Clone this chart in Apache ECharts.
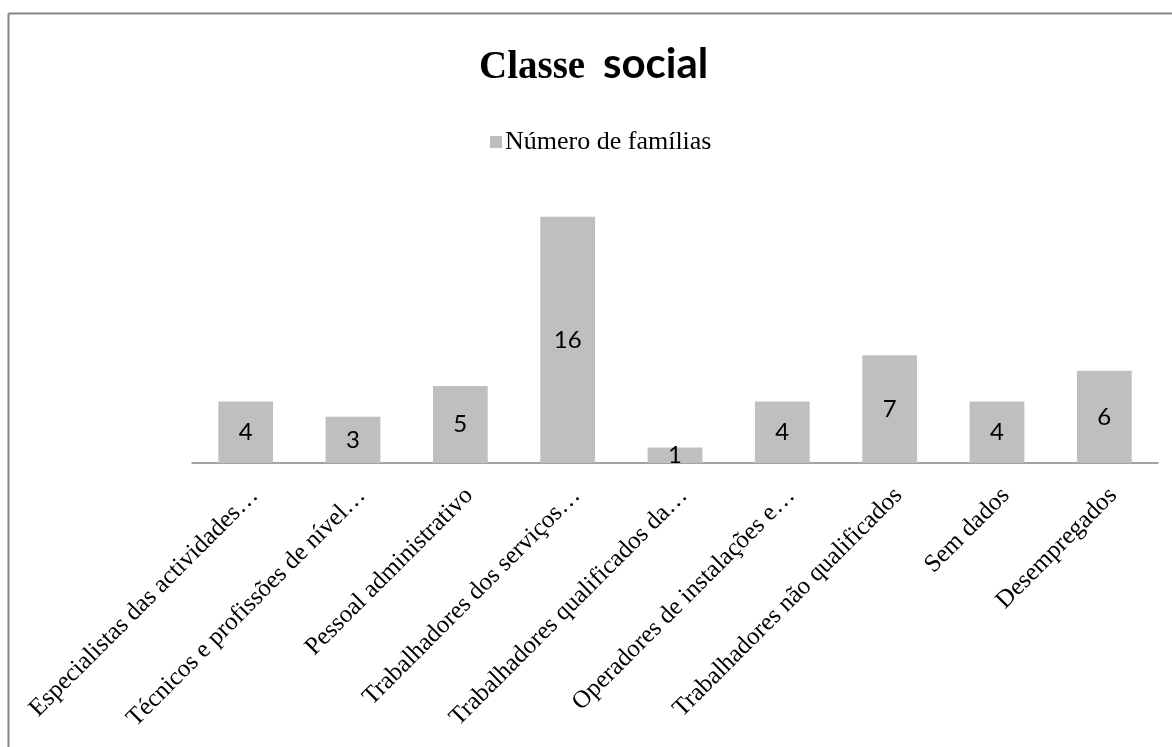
<!DOCTYPE html>
<html>
<head>
<meta charset="utf-8">
<script src="https://cdn.jsdelivr.net/npm/echarts@6/dist/echarts.min.js"></script>
<style>
html,body{margin:0;padding:0;background:#fff;}
#chart{width:1172px;height:747px;}
</style>
</head>
<body>
<div id="chart"></div>
<script>
var titleWords = ["Classe", "social"];
var categories = [
  "Especialistas das actividades…",
  "Técnicos e profissões de nível…",
  "Pessoal administrativo",
  "Trabalhadores dos serviços…",
  "Trabalhadores qualificados da…",
  "Operadores de instalações e…",
  "Trabalhadores não qualificados",
  "Sem dados",
  "Desempregados"
];
var seriesName = "Número de famílias";
var values = [4, 3, 5, 16, 1, 4, 7, 4, 6];

var chart = echarts.init(document.getElementById('chart'), null, {renderer: 'canvas'});
chart.setOption({
  backgroundColor: '#ffffff',
  animation: false,
  title: [{
    text: titleWords[0],
    left: 479,
    top: 48,
    padding: 0,
    textStyle: {fontFamily: 'Liberation Serif', fontWeight: 'bold', fontSize: 39, lineHeight: 39, color: '#000'}
  }, {
    text: titleWords[1],
    left: 603,
    top: 43,
    padding: 0,
    textStyle: {fontFamily: 'Lato', fontWeight: 'bold', fontSize: 42, lineHeight: 42, color: '#000'}
  }],
  legend: {
    top: 124,
    left: 485,
    icon: 'rect',
    itemWidth: 12,
    itemHeight: 12,
    itemGap: 6,
    textStyle: {fontFamily: 'Liberation Serif', fontSize: 26, color: '#000', padding: [0, 0, 0, -2]},
    data: [seriesName]
  },
  grid: {left: 192, right: 14, top: 186, bottom: 284, containLabel: false},
  xAxis: {
    type: 'category',
    data: categories,
    axisLine: {lineStyle: {color: '#868686', width: 1.5}},
    axisTick: {show: false},
    axisLabel: {
      rotate: 45,
      interval: 0,
      margin: 20,
      verticalAlign: 'top',
      fontFamily: 'Liberation Serif',
      fontSize: 25,
      color: '#000'
    }
  },
  yAxis: {
    type: 'value',
    min: 0,
    max: 18,
    interval: 2,
    show: false,
    splitLine: {show: false}
  },
  series: [{
    name: seriesName,
    type: 'bar',
    data: values,
    barCategoryGap: '49%',
    itemStyle: {color: '#bfbfbf'},
    label: {
      show: true,
      position: 'inside',
      fontFamily: 'Lato',
      fontSize: 24,
      color: '#000'
    }
  }],
  graphic: [
    {type: 'line', shape: {x1: 8.5, y1: 13.5, x2: 1172, y2: 13.5}, style: {stroke: '#868686', lineWidth: 2}, silent: true},
    {type: 'line', shape: {x1: 8.5, y1: 13.5, x2: 8.5, y2: 747}, style: {stroke: '#868686', lineWidth: 2}, silent: true}
  ]
});
</script>
</body>
</html>
